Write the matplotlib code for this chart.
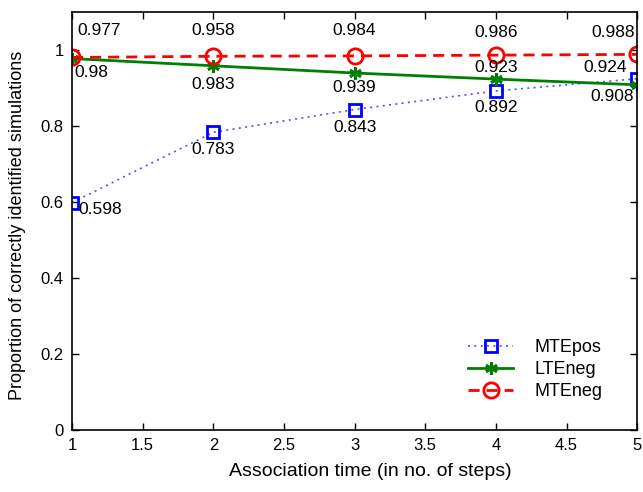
import matplotlib
matplotlib.use("Agg")
import matplotlib.pyplot as plt

plt.rcParams['font.family'] = ['Liberation Sans', 'DejaVu Sans']

# association time (steps)
steps = [1, 2, 3, 4, 5]
mte_pos = [0.598, 0.783, 0.843, 0.892, 0.924]
lte_neg = [0.977, 0.958, 0.939, 0.923, 0.908]
mte_neg = [0.980, 0.983, 0.984, 0.986, 0.988]

xticks = [1, 1.5, 2, 2.5, 3, 3.5, 4, 4.5, 5]
yticks = [0, 0.2, 0.4, 0.6, 0.8, 1]

fig = plt.figure(figsize=(6.43, 4.92), dpi=100)
ax = fig.add_axes([0.112, 0.126, 0.879, 0.850])

ax.plot(steps, mte_pos, color='#5050ff', ls=(0, (1.2, 2.6)), lw=1.2,
        marker='s', ms=8, mfc='none', mec='blue', mew=2, label='MTEpos')
ax.plot(steps, lte_neg, color='green', ls='-', lw=2, marker=(6, 2, 0),
        ms=9, mec='green', mew=2, label='LTEneg')
ax.plot(steps, mte_neg, color='red', ls=(0, (4, 2.5)), lw=2, marker='o',
        ms=11, mfc='none', mec='red', mew=2, label='MTEneg')

# value labels, placed like the original figure
fs = 12.5
ax.text(1.035, 1.050, '%.3f' % lte_neg[0], fontsize=fs, ha='left', va='center')
ax.text(1.02, 0.940, '%.2f' % mte_neg[0], fontsize=fs, ha='left', va='center')
ax.text(1.045, 0.579, '%.3f' % mte_pos[0], fontsize=fs, ha='left', va='center')

ax.text(2, 1.050, '%.3f' % lte_neg[1], fontsize=fs, ha='center', va='center')
ax.text(2, 0.910, '%.3f' % mte_neg[1], fontsize=fs, ha='center', va='center')
ax.text(2, 0.737, '%.3f' % mte_pos[1], fontsize=fs, ha='center', va='center')

ax.text(3, 1.050, '%.3f' % mte_neg[2], fontsize=fs, ha='center', va='center')
ax.text(3, 0.900, '%.3f' % lte_neg[2], fontsize=fs, ha='center', va='center')
ax.text(3, 0.795, '%.3f' % mte_pos[2], fontsize=fs, ha='center', va='center')

ax.text(4, 1.045, '%.3f' % mte_neg[3], fontsize=fs, ha='center', va='center')
ax.text(4, 0.953, '%.3f' % lte_neg[3], fontsize=fs, ha='center', va='center')
ax.text(4, 0.847, '%.3f' % mte_pos[3], fontsize=fs, ha='center', va='center')

ax.text(4.98, 1.045, '%.3f' % mte_neg[4], fontsize=fs, ha='right', va='center')
ax.text(4.93, 0.953, '%.3f' % mte_pos[4], fontsize=fs, ha='right', va='center')
ax.text(4.975, 0.876, '%.3f' % lte_neg[4], fontsize=fs, ha='right', va='center')

ax.set_xlim(1, 5)
ax.set_ylim(0, 1.1)
ax.set_xticks(xticks)
ax.set_xticklabels(['%g' % t for t in xticks])
ax.set_yticks(yticks)
ax.set_yticklabels(['%g' % t for t in yticks])
ax.tick_params(direction='in', top=True, right=True, length=5, width=1,
               labelsize=12, pad=6)
for s in ax.spines.values():
    s.set_linewidth(1.2)

ax.set_xlabel('Association time (in no. of steps)', fontsize=14, va='center')
ax.xaxis.set_label_coords(0.527, -0.100)
ax.set_ylabel('Proportion of correctly identified simulations', fontsize=13,
              va='center')
ax.yaxis.set_label_coords(-0.097, 0.490)

ax.legend(loc='upper left', bbox_to_anchor=(0.701, 0.217), frameon=False,
          fontsize=13, handlelength=2.5, handletextpad=1.15, borderpad=0,
          borderaxespad=0, labelspacing=0.28)

fig.savefig('out.png', dpi=100)
